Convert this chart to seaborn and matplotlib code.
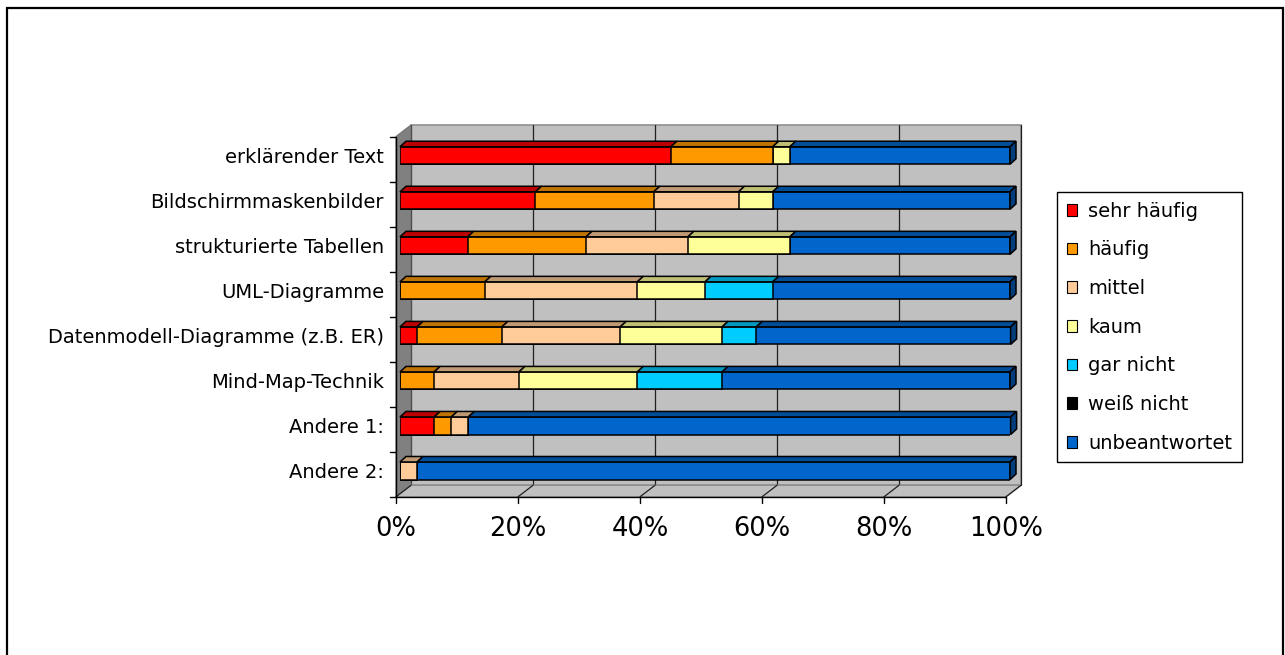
import numpy as np
import matplotlib
matplotlib.use("Agg")
import matplotlib.pyplot as plt
import seaborn as sns
from matplotlib.patches import Polygon, Rectangle, Patch
from matplotlib.colors import to_rgb
from matplotlib.transforms import ScaledTranslation

# ---- data (share of answers in %) ----
categories = [
    "erklärender Text",
    "Bildschirmmaskenbilder",
    "strukturierte Tabellen",
    "UML-Diagramme",
    "Datenmodell-Diagramme (z.B. ER)",
    "Mind-Map-Technik",
    "Andere 1:",
    "Andere 2:",
]
series_names = ["sehr häufig", "häufig", "mittel", "kaum", "gar nicht", "weiß nicht", "unbeantwortet"]

sehr_haeufig = [44.4, 22.2, 11.1, 0.0, 2.8, 0.0, 5.6, 0.0]
haeufig = [16.7, 19.4, 19.4, 13.9, 13.9, 5.6, 2.8, 0.0]
mittel = [0.0, 13.9, 16.7, 25.0, 19.4, 13.9, 2.8, 2.8]
kaum = [2.8, 5.6, 16.7, 11.1, 16.7, 19.4, 0.0, 0.0]
gar_nicht = [0.0, 0.0, 0.0, 11.1, 5.6, 13.9, 0.0, 0.0]
weiss_nicht = [0.0, 0.0, 0.0, 0.0, 0.0, 0.0, 0.0, 0.0]
unbeantwortet = [36.1, 38.9, 36.1, 38.9, 41.7, 47.2, 88.9, 97.2]

x_ticks = [0, 20, 40, 60, 80, 100]
x_tick_labels = ["0%", "20%", "40%", "60%", "80%", "100%"]

series_colors = ["#FF0000", "#FF9900", "#FFCC99", "#FFFF99", "#00CCFF", "#000000", "#0066CC"]

# ---- style ----
sns.set_theme(style="white")
plt.rcParams["font.family"] = ["DejaVu Sans"]
plt.rcParams["text.color"] = "black"
plt.rcParams["xtick.color"] = "black"
plt.rcParams["ytick.color"] = "black"
plt.rcParams["axes.labelcolor"] = "black"

W, H, DPI = 1285, 655, 100
fig = plt.figure(figsize=(W / DPI, H / DPI), dpi=DPI, facecolor="white")

# front face of the bars (pixel frame of the plot)
left_px, right_px, top_px, bottom_px = 400, 1010, 133, 493.3
ax = fig.add_axes([left_px / W, 1 - bottom_px / H,
                   (right_px - left_px) / W, (bottom_px - top_px) / H])
ax.set_facecolor("none")

n = len(categories)
ux = 100.0 / (right_px - left_px)      # data units per pixel (x)
uy = n / (bottom_px - top_px)          # data units per pixel (y, downwards)


def shift(x, y, dx, dy):
    """Move a data point by dx pixels to the right and dy pixels up."""
    return (x + dx * ux, y - dy * uy)


def shade(c, f):
    r, g, b = to_rgb(c)
    return (r * f, g * f, b * f)


FRONT = (-4, -3.5)   # axis plane relative to the bar faces
BACK = (11, 8)       # back wall relative to the bar faces
y_top, y_bot = -0.5, n - 0.5
edge_lw = 1.1

# ---- 3D box: back wall, side wall, floor ----
back_wall = [shift(0, y_top, *BACK), shift(100, y_top, *BACK),
             shift(100, y_bot, *BACK), shift(0, y_bot, *BACK)]
ax.add_patch(Polygon(back_wall, closed=True, facecolor="#C0C0C0", edgecolor="#909090",
                     lw=1.2, clip_on=False, zorder=0.5))
for xv in x_ticks:
    p0, p1 = shift(xv, y_top, *BACK), shift(xv, y_bot, *BACK)
    ax.plot([p0[0], p1[0]], [p0[1], p1[1]], color="#202020", lw=0.9,
            clip_on=False, zorder=0.6)

side_wall = [shift(0, y_top, *FRONT), shift(0, y_top, *BACK),
             shift(0, y_bot, *BACK), shift(0, y_bot, *FRONT)]
ax.add_patch(Polygon(side_wall, closed=True, facecolor="#808080", edgecolor="#707070",
                     lw=0.8, clip_on=False, zorder=0.7))

floor = [shift(0, y_bot, *FRONT), shift(100, y_bot, *FRONT),
         shift(100, y_bot, *BACK), shift(0, y_bot, *BACK)]
ax.add_patch(Polygon(floor, closed=True, facecolor="#C0C0C0", edgecolor="#909090",
                     lw=1.0, clip_on=False, zorder=0.7))
for xv in x_ticks:
    p0, p1 = shift(xv, y_bot, *FRONT), shift(xv, y_bot, *BACK)
    ax.plot([p0[0], p1[0]], [p0[1], p1[1]], color="#202020", lw=0.9,
            clip_on=False, zorder=0.8)

# ---- stacked bars (front faces) ----
values = np.array([sehr_haeufig, haeufig, mittel, kaum, gar_nicht, weiss_nicht, unbeantwortet])
cum = values.cumsum(axis=0)
bar_h = 0.39
for k in reversed(range(len(series_names))):
    if not values[k].any():
        continue
    sns.barplot(x=cum[k], y=categories, orient="h", color=series_colors[k], saturation=1,
                width=bar_h, edgecolor="black", linewidth=edge_lw, errorbar=None,
                ax=ax, zorder=3)

# ---- bar tops and end caps ----
dtx, dty = 6, 5.5
for i in range(n):
    top, bottom = i - bar_h / 2, i + bar_h / 2
    prev = 0.0
    last = None
    for k in range(len(series_names)):
        v = values[k][i]
        if v <= 0:
            continue
        l, r = prev, prev + v
        pts = [(l, top), (r, top), shift(r, top, dtx, dty), shift(l, top, dtx, dty)]
        ax.add_patch(Polygon(pts, closed=True, facecolor=shade(series_colors[k], 0.75),
                             edgecolor="black", lw=edge_lw, clip_on=False, zorder=3))
        prev = r
        last = k
    cap = [(prev, top), shift(prev, top, dtx, dty), shift(prev, bottom, dtx, dty), (prev, bottom)]
    ax.add_patch(Polygon(cap, closed=True, facecolor=shade(series_colors[last], 0.6),
                         edgecolor="black", lw=edge_lw, clip_on=False, zorder=3))

# ---- axis lines and tick marks on the front plane ----
a0, a1 = shift(0, y_top, *FRONT), shift(0, y_bot, *FRONT)
ax.plot([a0[0], a1[0]], [a0[1], a1[1]], color="black", lw=1.0, clip_on=False, zorder=4)
b1 = shift(100, y_bot, *FRONT)
ax.plot([a1[0], b1[0]], [a1[1], b1[1]], color="black", lw=1.0, clip_on=False, zorder=4)
for yb in np.arange(y_top, y_bot + 0.01, 1.0):
    p0 = shift(0, yb, *FRONT)
    p1 = shift(0, yb, FRONT[0] - 6, FRONT[1])
    ax.plot([p0[0], p1[0]], [p0[1], p1[1]], color="black", lw=1.0, clip_on=False, zorder=4)
for xv in x_ticks:
    p0 = shift(xv, y_bot, *FRONT)
    p1 = shift(xv, y_bot, FRONT[0], FRONT[1] - 6)
    ax.plot([p0[0], p1[0]], [p0[1], p1[1]], color="black", lw=1.0, clip_on=False, zorder=4)

# ---- axes formatting ----
ax.set_xlim(0, 100)
ax.set_ylim(y_bot, y_top)
ax.set_xlabel("")
ax.set_ylabel("")
for s in ax.spines.values():
    s.set_visible(False)
ax.grid(False)

ax.set_xticks(x_ticks)
ax.set_xticklabels(x_tick_labels, fontsize=18.5, color="black")
ax.tick_params(axis="x", length=0, pad=16.5)
label_off = ScaledTranslation(FRONT[0] / DPI, 0, fig.dpi_scale_trans)
for lab in ax.get_xticklabels():
    lab.set_transform(lab.get_transform() + label_off)

ax.set_yticks(range(n))
ax.set_yticklabels(categories, fontsize=14, color="black")
ax.tick_params(axis="y", length=0, pad=11.5)

# ---- legend ----
handles = [Patch(facecolor=c, edgecolor="black", linewidth=0.8) for c in series_colors]
leg = fig.legend(handles, series_names, loc="upper left",
                 bbox_to_anchor=(1057 / W, 1 - 192 / H), bbox_transform=fig.transFigure,
                 frameon=True, fancybox=False, framealpha=1, edgecolor="black",
                 fontsize=14, handlelength=0.55, handleheight=0.55, handletextpad=0.55,
                 labelspacing=1.01, borderpad=0.5, borderaxespad=0, labelcolor="black")
leg.get_frame().set_linewidth(1.0)

# ---- outer chart frame ----
fig.add_artist(Rectangle((7 / W, -0.05), (1283 - 7) / W, (H - 8) / H + 0.05,
                         transform=fig.transFigure, fill=False, edgecolor="black",
                         lw=1.6, zorder=10))

fig.savefig("out.png", dpi=DPI, facecolor="white")
